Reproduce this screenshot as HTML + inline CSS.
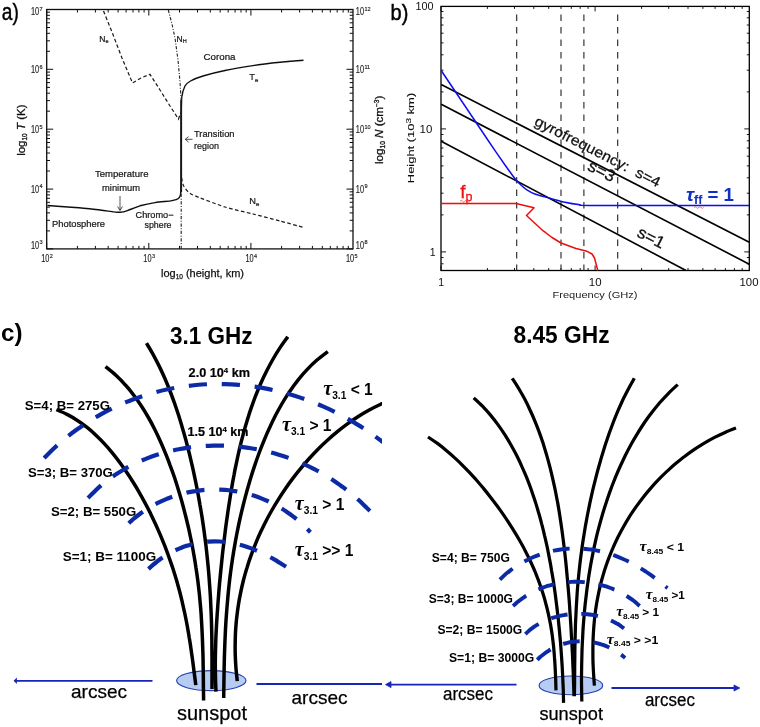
<!DOCTYPE html>
<html lang="en">
<head>
<meta charset="utf-8">
<title>Solar atmosphere model and gyroresonance layers</title>
<style>
html,body{margin:0;padding:0;background:#fff;}
body{width:760px;height:727px;overflow:hidden;}
svg{display:block;font-family:"Liberation Sans",sans-serif;}
#pa,#pa-text{filter:url(#soft);}
#pb,#pb-text{filter:url(#soft2);}
.soft3{filter:url(#soft3);}
</style>
</head>
<body>
<svg width="760" height="727" viewBox="0 0 760 727">
<defs>
<clipPath id="clipL"><rect x="0" y="300" width="382" height="427"/></clipPath>
<filter id="soft" x="-5%" y="-5%" width="110%" height="110%"><feGaussianBlur stdDeviation="0.45"/></filter>
<filter id="soft3" x="-5%" y="-5%" width="110%" height="110%"><feGaussianBlur stdDeviation="0.3"/></filter>
<filter id="soft2" x="-5%" y="-5%" width="110%" height="110%"><feGaussianBlur stdDeviation="0.35"/></filter>
</defs>
<rect width="760" height="727" fill="#fff"/>
<g id="pa">
<rect x="46.7" y="9.5" width="306.3" height="239.4" fill="none" stroke="#111" stroke-width="1.3"/>
<path d="M46.7 248.9 v-6.0 M46.7 9.5 v6.0 M77.4 248.9 v-3.0 M77.4 9.5 v3.0 M95.4 248.9 v-3.0 M95.4 9.5 v3.0 M108.2 248.9 v-3.0 M108.2 9.5 v3.0 M118.1 248.9 v-3.0 M118.1 9.5 v3.0 M126.1 248.9 v-3.0 M126.1 9.5 v3.0 M133.0 248.9 v-3.0 M133.0 9.5 v3.0 M138.9 248.9 v-3.0 M138.9 9.5 v3.0 M144.1 248.9 v-3.0 M144.1 9.5 v3.0 M148.8 248.9 v-6.0 M148.8 9.5 v6.0 M179.5 248.9 v-3.0 M179.5 9.5 v3.0 M197.5 248.9 v-3.0 M197.5 9.5 v3.0 M210.3 248.9 v-3.0 M210.3 9.5 v3.0 M220.2 248.9 v-3.0 M220.2 9.5 v3.0 M228.2 248.9 v-3.0 M228.2 9.5 v3.0 M235.1 248.9 v-3.0 M235.1 9.5 v3.0 M241.0 248.9 v-3.0 M241.0 9.5 v3.0 M246.2 248.9 v-3.0 M246.2 9.5 v3.0 M250.9 248.9 v-6.0 M250.9 9.5 v6.0 M281.6 248.9 v-3.0 M281.6 9.5 v3.0 M299.6 248.9 v-3.0 M299.6 9.5 v3.0 M312.4 248.9 v-3.0 M312.4 9.5 v3.0 M322.3 248.9 v-3.0 M322.3 9.5 v3.0 M330.3 248.9 v-3.0 M330.3 9.5 v3.0 M337.2 248.9 v-3.0 M337.2 9.5 v3.0 M343.1 248.9 v-3.0 M343.1 9.5 v3.0 M348.3 248.9 v-3.0 M348.3 9.5 v3.0 M46.7 248.9 h6.5 M353.0 248.9 h-6.5 M46.7 230.9 h3.3 M353.0 230.9 h-3.3 M46.7 220.3 h3.3 M353.0 220.3 h-3.3 M46.7 212.9 h3.3 M353.0 212.9 h-3.3 M46.7 207.1 h3.3 M353.0 207.1 h-3.3 M46.7 202.3 h3.3 M353.0 202.3 h-3.3 M46.7 198.3 h3.3 M353.0 198.3 h-3.3 M46.7 194.9 h3.3 M353.0 194.9 h-3.3 M46.7 191.8 h3.3 M353.0 191.8 h-3.3 M46.7 189.1 h6.5 M353.0 189.1 h-6.5 M46.7 171.0 h3.3 M353.0 171.0 h-3.3 M46.7 160.5 h3.3 M353.0 160.5 h-3.3 M46.7 153.0 h3.3 M353.0 153.0 h-3.3 M46.7 147.2 h3.3 M353.0 147.2 h-3.3 M46.7 142.5 h3.3 M353.0 142.5 h-3.3 M46.7 138.5 h3.3 M353.0 138.5 h-3.3 M46.7 135.0 h3.3 M353.0 135.0 h-3.3 M46.7 131.9 h3.3 M353.0 131.9 h-3.3 M46.7 129.2 h6.5 M353.0 129.2 h-6.5 M46.7 111.2 h3.3 M353.0 111.2 h-3.3 M46.7 100.6 h3.3 M353.0 100.6 h-3.3 M46.7 93.2 h3.3 M353.0 93.2 h-3.3 M46.7 87.4 h3.3 M353.0 87.4 h-3.3 M46.7 82.6 h3.3 M353.0 82.6 h-3.3 M46.7 78.6 h3.3 M353.0 78.6 h-3.3 M46.7 75.2 h3.3 M353.0 75.2 h-3.3 M46.7 72.1 h3.3 M353.0 72.1 h-3.3 M46.7 69.3 h6.5 M353.0 69.3 h-6.5 M46.7 51.3 h3.3 M353.0 51.3 h-3.3 M46.7 40.8 h3.3 M353.0 40.8 h-3.3 M46.7 33.3 h3.3 M353.0 33.3 h-3.3 M46.7 27.5 h3.3 M353.0 27.5 h-3.3 M46.7 22.8 h3.3 M353.0 22.8 h-3.3 M46.7 18.8 h3.3 M353.0 18.8 h-3.3 M46.7 15.3 h3.3 M353.0 15.3 h-3.3 M46.7 12.2 h3.3 M353.0 12.2 h-3.3" stroke="#111" stroke-width="1" fill="none"/>
<path d="M47.5 205.5 C52.1 205.8 66.2 206.8 75.0 207.5 C83.8 208.2 92.5 209.2 100.0 210.0 C107.5 210.8 115.0 212.4 120.0 212.3 C125.0 212.2 126.7 210.6 130.0 209.5 C133.3 208.4 135.8 207.0 140.0 205.8 C144.2 204.7 149.7 203.5 155.0 202.6 C160.3 201.7 168.1 201.3 172.0 200.6 C175.9 199.9 177.1 199.6 178.5 198.5 C179.9 197.4 180.2 197.1 180.6 194.0 C181.0 190.9 181.1 182.3 181.2 180.0" stroke="#111" stroke-width="1.4" fill="none"/>
<path d="M181.2 180.0 C181.2 171.8 181.2 119.7 181.3 110.0 C181.4 100.3 181.4 99.8 181.8 97.0 C182.2 94.2 184.0 87.9 185.0 86.0 C186.0 84.1 188.4 82.2 190.5 81.0 C192.6 79.8 199.0 77.2 203.0 76.0 C207.0 74.8 219.2 71.7 225.0 70.5 C230.8 69.3 246.6 66.6 253.0 65.6 C259.4 64.6 274.1 62.9 280.0 62.3 C285.9 61.7 300.8 60.4 303.5 60.2" stroke="#111" stroke-width="1.4" fill="none"/>
<path d="M181.2 100 V192" stroke="#111" stroke-width="1.8" fill="none"/>
<path d="M103.5 11.0 L112.0 32.0 L122.0 58.0 L132.5 83.0 L141.0 78.0 L150.0 74.3 L160.0 90.0 L170.0 106.0 L178.5 119.0 L181.0 112.0" stroke="#1c1c1c" stroke-width="1.25" fill="none" stroke-dasharray="3.6 2.4"/>
<path d="M181.2 172.0 C181.3 172.9 181.7 178.3 182.0 180.0 C182.3 181.7 182.8 184.8 184.0 186.5 C185.2 188.2 187.2 192.1 192.0 194.5 C196.8 196.9 217.9 204.7 225.0 207.0 C232.1 209.3 246.6 212.4 253.0 214.0 C259.4 215.6 274.1 219.4 280.0 221.0 C285.9 222.6 300.8 226.6 303.5 227.3" stroke="#1c1c1c" stroke-width="1.25" fill="none" stroke-dasharray="3.6 2.4"/>
<path d="M168.3 10.0 L172.0 24.0 L175.0 38.0 L178.0 60.0 L180.0 82.0 L181.2 100.0 L181.2 249.0" stroke="#222" stroke-width="1.1" fill="none" stroke-dasharray="3.2 1.6 1 1.6"/>
<path d="M120 196 V210 M117.6 206.5 L120 210.5 L122.4 206.5" stroke="#222" stroke-width="0.8" fill="none"/>
<path d="M192.5 139.3 H185.5 M188.6 136.6 L185.2 139.3 L188.6 142" stroke="#222" stroke-width="0.8" fill="none"/>
</g>
<g id="pa-text" fill="#222">
<text x="31.0" y="15.3" font-size="10" fill="#1a1a1a" stroke="#1a1a1a" stroke-width="0.15" textLength="8.2" lengthAdjust="spacingAndGlyphs" text-anchor="start">10</text>
<text x="39.6" y="10.7" font-size="5.5" fill="#1a1a1a" stroke="#1a1a1a" stroke-width="0.15" text-anchor="start">7</text>
<text x="31.0" y="73.2" font-size="10" fill="#1a1a1a" stroke="#1a1a1a" stroke-width="0.15" textLength="8.2" lengthAdjust="spacingAndGlyphs" text-anchor="start">10</text>
<text x="39.6" y="68.7" font-size="5.5" fill="#1a1a1a" stroke="#1a1a1a" stroke-width="0.15" text-anchor="start">6</text>
<text x="31.0" y="133.1" font-size="10" fill="#1a1a1a" stroke="#1a1a1a" stroke-width="0.15" textLength="8.2" lengthAdjust="spacingAndGlyphs" text-anchor="start">10</text>
<text x="39.6" y="128.5" font-size="5.5" fill="#1a1a1a" stroke="#1a1a1a" stroke-width="0.15" text-anchor="start">5</text>
<text x="31.0" y="193.0" font-size="10" fill="#1a1a1a" stroke="#1a1a1a" stroke-width="0.15" textLength="8.2" lengthAdjust="spacingAndGlyphs" text-anchor="start">10</text>
<text x="39.6" y="188.4" font-size="5.5" fill="#1a1a1a" stroke="#1a1a1a" stroke-width="0.15" text-anchor="start">4</text>
<text x="31.0" y="248.6" font-size="10" fill="#1a1a1a" stroke="#1a1a1a" stroke-width="0.15" textLength="8.2" lengthAdjust="spacingAndGlyphs" text-anchor="start">10</text>
<text x="39.6" y="244.0" font-size="5.5" fill="#1a1a1a" stroke="#1a1a1a" stroke-width="0.15" text-anchor="start">3</text>
<text x="355.8" y="15.3" font-size="10" fill="#1a1a1a" stroke="#1a1a1a" stroke-width="0.15" textLength="8.2" lengthAdjust="spacingAndGlyphs" text-anchor="start">10</text>
<text x="364.4" y="10.7" font-size="5.5" fill="#1a1a1a" stroke="#1a1a1a" stroke-width="0.15" text-anchor="start">12</text>
<text x="355.8" y="73.2" font-size="10" fill="#1a1a1a" stroke="#1a1a1a" stroke-width="0.15" textLength="8.2" lengthAdjust="spacingAndGlyphs" text-anchor="start">10</text>
<text x="364.4" y="68.7" font-size="5.5" fill="#1a1a1a" stroke="#1a1a1a" stroke-width="0.15" text-anchor="start">11</text>
<text x="355.8" y="133.1" font-size="10" fill="#1a1a1a" stroke="#1a1a1a" stroke-width="0.15" textLength="8.2" lengthAdjust="spacingAndGlyphs" text-anchor="start">10</text>
<text x="364.4" y="128.5" font-size="5.5" fill="#1a1a1a" stroke="#1a1a1a" stroke-width="0.15" text-anchor="start">10</text>
<text x="355.8" y="193.0" font-size="10" fill="#1a1a1a" stroke="#1a1a1a" stroke-width="0.15" textLength="8.2" lengthAdjust="spacingAndGlyphs" text-anchor="start">10</text>
<text x="364.4" y="188.4" font-size="5.5" fill="#1a1a1a" stroke="#1a1a1a" stroke-width="0.15" text-anchor="start">9</text>
<text x="355.8" y="248.6" font-size="10" fill="#1a1a1a" stroke="#1a1a1a" stroke-width="0.15" textLength="8.2" lengthAdjust="spacingAndGlyphs" text-anchor="start">10</text>
<text x="364.4" y="244.0" font-size="5.5" fill="#1a1a1a" stroke="#1a1a1a" stroke-width="0.15" text-anchor="start">8</text>
<text x="41.2" y="262.3" font-size="10" fill="#1a1a1a" stroke="#1a1a1a" stroke-width="0.15" textLength="8.2" lengthAdjust="spacingAndGlyphs" text-anchor="start">10</text>
<text x="49.8" y="257.7" font-size="5.5" fill="#1a1a1a" stroke="#1a1a1a" stroke-width="0.15" text-anchor="start">2</text>
<text x="143.3" y="262.3" font-size="10" fill="#1a1a1a" stroke="#1a1a1a" stroke-width="0.15" textLength="8.2" lengthAdjust="spacingAndGlyphs" text-anchor="start">10</text>
<text x="151.9" y="257.7" font-size="5.5" fill="#1a1a1a" stroke="#1a1a1a" stroke-width="0.15" text-anchor="start">3</text>
<text x="245.4" y="262.3" font-size="10" fill="#1a1a1a" stroke="#1a1a1a" stroke-width="0.15" textLength="8.2" lengthAdjust="spacingAndGlyphs" text-anchor="start">10</text>
<text x="254.0" y="257.7" font-size="5.5" fill="#1a1a1a" stroke="#1a1a1a" stroke-width="0.15" text-anchor="start">4</text>
<text x="346.0" y="262.3" font-size="10" fill="#1a1a1a" stroke="#1a1a1a" stroke-width="0.15" textLength="8.2" lengthAdjust="spacingAndGlyphs" text-anchor="start">10</text>
<text x="354.6" y="257.7" font-size="5.5" fill="#1a1a1a" stroke="#1a1a1a" stroke-width="0.15" text-anchor="start">5</text>
<text x="202.5" y="277.2" font-size="11" text-anchor="middle" fill="#111" stroke="#111" stroke-width="0.25">log<tspan dy="2.2" font-size="6.5">10</tspan><tspan dy="-2.2"> (height, km)</tspan></text>
<text transform="translate(24.9 130.2) rotate(-90)" font-size="11.5" text-anchor="middle" fill="#111" stroke="#111" stroke-width="0.3">log<tspan dy="2.2" font-size="6.5">10</tspan><tspan dy="-2.2"> </tspan><tspan font-style="italic">T</tspan> (K)</text>
<text transform="translate(382.7 164) rotate(-90)" font-size="11.5" text-anchor="start" textLength="68.4" lengthAdjust="spacingAndGlyphs" fill="#111" stroke="#111" stroke-width="0.3">log<tspan dy="2.2" font-size="6.5">10</tspan><tspan dy="-2.2"> </tspan><tspan font-style="italic">N</tspan> (cm<tspan dy="-3.8" font-size="6.5">−3</tspan><tspan dy="3.8">)</tspan></text>
<text x="99.3" y="41.5" font-size="8.5" text-anchor="start" font-weight="normal" fill="#151515" stroke="#151515" stroke-width="0.2">N<tspan dy="1.5" font-size="5.5">e</tspan></text>
<text x="176.5" y="41.5" font-size="8.5" text-anchor="start" font-weight="normal" fill="#151515" stroke="#151515" stroke-width="0.2">N<tspan dy="1.5" font-size="5.5">H</tspan></text>
<text x="203.5" y="59.5" font-size="9" text-anchor="start" fill="#151515" stroke="#151515" stroke-width="0.2" textLength="32" lengthAdjust="spacingAndGlyphs">Corona</text>
<text x="249.3" y="80.3" font-size="9.3" text-anchor="start" font-weight="normal" fill="#151515" stroke="#151515" stroke-width="0.2">T<tspan dy="1.5" font-size="6">e</tspan></text>
<text x="194.0" y="137.3" font-size="9" text-anchor="start" fill="#151515" stroke="#151515" stroke-width="0.2" textLength="40.5" lengthAdjust="spacingAndGlyphs">Transition</text>
<text x="194.0" y="149.3" font-size="9" text-anchor="start" fill="#151515" stroke="#151515" stroke-width="0.2" textLength="25" lengthAdjust="spacingAndGlyphs">region</text>
<text x="95.0" y="177.0" font-size="9" text-anchor="start" fill="#151515" stroke="#151515" stroke-width="0.2" textLength="53.5" lengthAdjust="spacingAndGlyphs">Temperature</text>
<text x="102.0" y="191.0" font-size="9" text-anchor="start" fill="#151515" stroke="#151515" stroke-width="0.2" textLength="38" lengthAdjust="spacingAndGlyphs">minimum</text>
<text x="52.0" y="227.0" font-size="9" text-anchor="start" fill="#151515" stroke="#151515" stroke-width="0.2" textLength="53" lengthAdjust="spacingAndGlyphs">Photosphere</text>
<text x="135.5" y="218.0" font-size="9" text-anchor="start" fill="#151515" stroke="#151515" stroke-width="0.2" textLength="38" lengthAdjust="spacingAndGlyphs">Chromo−</text>
<text x="144.5" y="227.8" font-size="9" text-anchor="start" fill="#151515" stroke="#151515" stroke-width="0.2" textLength="27" lengthAdjust="spacingAndGlyphs">sphere</text>
<text x="249.3" y="204.3" font-size="9.3" text-anchor="start" font-weight="normal" fill="#151515" stroke="#151515" stroke-width="0.2">N<tspan dy="1.5" font-size="6">e</tspan></text>
</g>
<g class="soft3"><text x="1.8" y="20.3" font-size="23.7" fill="#000" stroke="#000" stroke-width="0.45" textLength="17" lengthAdjust="spacingAndGlyphs">a)</text></g>
<g id="pb">
<rect x="441.0" y="6.4" width="308.3" height="264.1" fill="none" stroke="#000" stroke-width="1.3"/>
<path d="M441.0 270.5 v-5.0 M441.0 6.4 v5.0 M487.4 270.5 v-2.5 M487.4 6.4 v2.5 M514.5 270.5 v-2.5 M514.5 6.4 v2.5 M533.8 270.5 v-2.5 M533.8 6.4 v2.5 M548.7 270.5 v-2.5 M548.7 6.4 v2.5 M561.0 270.5 v-2.5 M561.0 6.4 v2.5 M571.3 270.5 v-2.5 M571.3 6.4 v2.5 M580.2 270.5 v-2.5 M580.2 6.4 v2.5 M588.1 270.5 v-2.5 M588.1 6.4 v2.5 M595.1 270.5 v-5.0 M595.1 6.4 v5.0 M641.6 270.5 v-2.5 M641.6 6.4 v2.5 M668.7 270.5 v-2.5 M668.7 6.4 v2.5 M688.0 270.5 v-2.5 M688.0 6.4 v2.5 M702.9 270.5 v-2.5 M702.9 6.4 v2.5 M715.1 270.5 v-2.5 M715.1 6.4 v2.5 M725.4 270.5 v-2.5 M725.4 6.4 v2.5 M734.4 270.5 v-2.5 M734.4 6.4 v2.5 M742.2 270.5 v-2.5 M742.2 6.4 v2.5 M441.0 263.8 h2.5 M749.3 263.8 h-2.5 M441.0 257.5 h2.5 M749.3 257.5 h-2.5 M441.0 251.9 h5.0 M749.3 251.9 h-5.0 M441.0 214.9 h2.5 M749.3 214.9 h-2.5 M441.0 193.2 h2.5 M749.3 193.2 h-2.5 M441.0 177.8 h2.5 M749.3 177.8 h-2.5 M441.0 165.9 h2.5 M749.3 165.9 h-2.5 M441.0 156.2 h2.5 M749.3 156.2 h-2.5 M441.0 148.0 h2.5 M749.3 148.0 h-2.5 M441.0 140.8 h2.5 M749.3 140.8 h-2.5 M441.0 134.5 h2.5 M749.3 134.5 h-2.5 M441.0 128.9 h5.0 M749.3 128.9 h-5.0 M441.0 91.9 h2.5 M749.3 91.9 h-2.5 M441.0 70.2 h2.5 M749.3 70.2 h-2.5 M441.0 54.8 h2.5 M749.3 54.8 h-2.5 M441.0 42.9 h2.5 M749.3 42.9 h-2.5 M441.0 33.2 h2.5 M749.3 33.2 h-2.5 M441.0 25.0 h2.5 M749.3 25.0 h-2.5 M441.0 17.8 h2.5 M749.3 17.8 h-2.5 M441.0 11.5 h2.5 M749.3 11.5 h-2.5" stroke="#000" stroke-width="0.9" fill="none"/>
<path d="M516.7 14.4 V270.5" stroke="#222" stroke-width="1.1" stroke-dasharray="6.6 5.9" fill="none"/>
<path d="M561.0 14.4 V270.5" stroke="#222" stroke-width="1.1" stroke-dasharray="6.6 5.9" fill="none"/>
<path d="M583.9 14.4 V270.5" stroke="#222" stroke-width="1.1" stroke-dasharray="6.6 5.9" fill="none"/>
<path d="M617.7 14.4 V270.5" stroke="#222" stroke-width="1.1" stroke-dasharray="6.6 5.9" fill="none"/>
<path d="M441.2 84.6 L749.3 242.2 M441.2 104.2 L749.3 264.2 M441.2 141.2 L686 270.5" stroke="#000" stroke-width="1.65" fill="none"/>
<path d="M441.2 70.5 C443.5 73.9 459.4 97.6 464.0 104.5 C468.6 111.4 483.4 133.4 487.5 139.5 C491.6 145.6 502.1 160.9 505.0 165.0 C507.9 169.1 514.4 178.0 516.0 180.0 C517.6 182.0 520.0 184.0 521.0 185.0 C522.0 186.0 525.1 188.7 526.5 189.6 C527.9 190.5 532.6 193.2 534.8 194.0 C537.0 194.8 545.5 197.1 548.5 197.9 C551.5 198.7 561.9 201.6 565.0 202.3 C568.1 203.0 577.5 204.5 580.0 204.8 C582.5 205.1 573.1 205.3 590.0 205.4 C606.9 205.5 733.4 205.4 749.3 205.4" stroke="#1010ee" stroke-width="1.5" fill="none"/>
<path d="M441.2 203.4 L516.0 203.4 L534.0 207.8 L526.5 215.5 L543.0 230.7 L552.0 237.5 L561.0 243.0 L576.0 248.5 L587.0 251.3 L592.0 254.0 L594.5 258.0 L597.8 270.5" stroke="#ee1010" stroke-width="1.5" fill="none" stroke-linejoin="round"/>
</g>
<g id="pb-text" fill="#111">
<text x="415.4" y="10.4" font-size="10" text-anchor="start" font-weight="normal" fill="#111" textLength="18" lengthAdjust="spacingAndGlyphs">100</text>
<text x="419.5" y="132.6" font-size="10.5" text-anchor="start" font-weight="normal" fill="#111" textLength="12.8" lengthAdjust="spacingAndGlyphs">10</text>
<text x="435.5" y="255.7" font-size="10.5" text-anchor="end" font-weight="normal" fill="#111" >1</text>
<text x="441.2" y="285.5" font-size="10.5" text-anchor="middle" font-weight="normal" fill="#111" >1</text>
<text x="588.8" y="285.5" font-size="10.5" text-anchor="start" font-weight="normal" fill="#111" textLength="12.8" lengthAdjust="spacingAndGlyphs">10</text>
<text x="739.5" y="285.5" font-size="10.5" text-anchor="start" font-weight="normal" fill="#111" textLength="19" lengthAdjust="spacingAndGlyphs">100</text>
<text x="552.5" y="298.3" font-size="9.5" text-anchor="start" font-weight="normal" fill="#222" textLength="85" lengthAdjust="spacingAndGlyphs">Frequency (GHz)</text>
<text transform="translate(414.3 183.2) rotate(-90)" font-size="9.8" text-anchor="start" fill="#111" stroke="#111" stroke-width="0.1" textLength="90.4" lengthAdjust="spacingAndGlyphs">Height (10<tspan dy="-3.2" font-size="7.5">3</tspan><tspan dy="3.2"> km)</tspan></text>
<text transform="translate(533.5 124.5) rotate(27)" font-size="14.5" fill="#111" stroke="#111" stroke-width="0.25" textLength="139" lengthAdjust="spacingAndGlyphs" xml:space="preserve">gyrofrequency:  s=4</text>
<text transform="translate(586.5 169.5) rotate(27)" font-size="16.5" fill="#111" stroke="#111" stroke-width="0.3" textLength="28.5" lengthAdjust="spacingAndGlyphs">s=3</text>
<text transform="translate(636 236) rotate(27)" font-size="16.5" fill="#111" stroke="#111" stroke-width="0.3" textLength="28.5" lengthAdjust="spacingAndGlyphs">s=1</text>
<text x="686" y="200.6" font-size="18" font-weight="bold" fill="#1030c0" textLength="48" lengthAdjust="spacingAndGlyphs"><tspan font-style="italic" font-size="19">τ</tspan><tspan dy="3.5" font-size="12">ff</tspan><tspan dy="-3.5"> = 1</tspan></text>
<path d="M694 207.5 q1.2 -1.6 2.4 0 t2.4 0 t2.4 0 t2.4 0" stroke="#e33" stroke-width="0.7" fill="none"/>
<text x="460.3" y="197.8" font-size="19" fill="#ee1010" stroke="#ee1010" stroke-width="0.3">f<tspan dy="3.5" font-size="12.5">p</tspan></text>
<path d="M460 201.2 q1.2 -1.6 2.4 0 t2.4 0 t2.4 0 t2.4 0" stroke="#e33" stroke-width="0.7" fill="none"/>
</g>
<g class="soft3"><text x="390.6" y="19.5" font-size="21.3" fill="#000" stroke="#000" stroke-width="0.45" textLength="17.8" lengthAdjust="spacingAndGlyphs">b)</text></g>
<g class="soft3"><g id="pc-left" clip-path="url(#clipL)">
<ellipse cx="211.3" cy="680.6" rx="34.7" ry="10" fill="#b7ccf2" stroke="#2540b0" stroke-width="1.1"/>
<path d="M56.4 409.6 C58.3 410.4 64.0 412.7 67.5 414.6 C71.1 416.4 74.5 418.5 77.8 420.7 C81.1 422.8 84.3 425.2 87.4 427.7 C90.4 430.1 93.4 432.8 96.2 435.5 C99.1 438.2 101.9 441.0 104.5 443.9 C107.2 446.8 109.8 449.8 112.3 452.8 C114.8 455.9 117.3 459.0 119.6 462.2 C122.0 465.4 124.3 468.7 126.5 472.0 C128.8 475.3 130.9 478.6 133.0 482.0 C135.2 485.4 137.2 488.8 139.2 492.3 C141.2 495.8 143.1 499.3 145.0 502.8 C146.9 506.3 148.7 509.8 150.5 513.4 C152.2 517.0 153.9 520.6 155.6 524.2 C157.2 527.8 158.8 531.5 160.4 535.1 C161.9 538.8 163.4 542.4 164.9 546.1 C166.3 549.8 167.7 553.5 169.0 557.3 C170.4 561.0 171.6 564.7 172.9 568.5 C174.1 572.3 175.3 576.1 176.4 579.8 C177.5 583.6 178.5 587.5 179.6 591.3 C180.6 595.1 181.5 599.0 182.4 602.8 C183.3 606.7 184.2 610.6 185.0 614.5 C185.8 618.4 186.6 622.3 187.3 626.2 C188.0 630.1 188.7 634.1 189.3 638.0 C190.0 641.9 190.6 645.9 191.1 649.8 C191.7 653.8 192.3 657.7 192.8 661.7 C193.3 665.6 193.8 669.5 194.3 673.5 C194.8 677.4 195.6 683.2 195.8 685.2 M105.5 366.6 C107.2 368.0 112.6 372.2 115.9 375.3 C119.2 378.3 122.3 381.5 125.2 384.8 C128.2 388.0 131.0 391.5 133.6 395.0 C136.3 398.5 138.8 402.1 141.2 405.8 C143.6 409.4 145.9 413.2 148.1 417.0 C150.3 420.8 152.4 424.7 154.4 428.7 C156.4 432.6 158.3 436.6 160.1 440.7 C161.9 444.7 163.7 448.8 165.3 452.9 C167.0 457.0 168.6 461.1 170.1 465.3 C171.7 469.4 173.2 473.6 174.6 477.8 C176.0 482.1 177.3 486.3 178.6 490.5 C179.9 494.8 181.2 499.0 182.3 503.3 C183.5 507.6 184.6 511.9 185.7 516.2 C186.8 520.5 187.8 524.8 188.8 529.1 C189.7 533.4 190.6 537.7 191.5 542.0 C192.4 546.4 193.2 550.7 193.9 555.0 C194.7 559.4 195.4 563.7 196.0 568.1 C196.7 572.5 197.3 576.8 197.9 581.2 C198.4 585.6 198.9 590.0 199.4 594.4 C199.8 598.7 200.2 603.1 200.6 607.5 C201.0 611.9 201.3 616.4 201.5 620.8 C201.8 625.2 202.0 629.6 202.2 634.0 C202.4 638.5 202.6 642.9 202.7 647.3 C202.9 651.8 203.0 656.2 203.1 660.6 C203.1 665.1 203.2 669.5 203.3 673.9 C203.3 678.4 203.4 682.8 203.4 687.2 C203.5 691.6 203.6 698.2 203.6 700.4 M146.5 343.2 C147.6 345.1 151.1 350.8 153.2 354.6 C155.3 358.5 157.3 362.4 159.3 366.4 C161.2 370.3 163.0 374.3 164.8 378.3 C166.5 382.3 168.2 386.4 169.8 390.5 C171.4 394.6 172.9 398.7 174.4 402.8 C175.8 407.0 177.2 411.1 178.6 415.3 C179.9 419.5 181.2 423.7 182.4 427.9 C183.7 432.1 184.8 436.4 186.0 440.6 C187.1 444.9 188.2 449.1 189.3 453.4 C190.3 457.7 191.3 462.0 192.3 466.2 C193.3 470.5 194.2 474.8 195.1 479.2 C196.0 483.5 196.9 487.8 197.7 492.1 C198.5 496.4 199.3 500.8 200.0 505.1 C200.8 509.4 201.5 513.8 202.2 518.1 C202.8 522.4 203.5 526.8 204.1 531.2 C204.7 535.5 205.2 539.9 205.8 544.2 C206.3 548.6 206.8 552.9 207.2 557.3 C207.7 561.7 208.1 566.1 208.5 570.4 C208.9 574.8 209.2 579.2 209.5 583.6 C209.9 587.9 210.1 592.3 210.4 596.7 C210.6 601.1 210.8 605.5 211.0 609.9 C211.2 614.3 211.4 618.7 211.5 623.1 C211.6 627.5 211.7 631.9 211.8 636.3 C211.9 640.7 211.9 645.1 211.9 649.5 C212.0 653.9 212.0 658.3 212.0 662.7 C212.0 667.0 212.0 671.4 212.0 675.8 C212.0 680.2 212.0 686.8 212.0 689.0 M287.8 336.7 C286.5 338.6 282.4 344.1 279.9 347.9 C277.4 351.7 275.0 355.6 272.8 359.5 C270.5 363.5 268.4 367.5 266.4 371.5 C264.3 375.6 262.4 379.7 260.6 383.8 C258.8 388.0 257.1 392.2 255.4 396.4 C253.8 400.6 252.3 404.9 250.8 409.2 C249.3 413.5 248.0 417.8 246.7 422.1 C245.4 426.5 244.1 430.8 243.0 435.2 C241.8 439.6 240.7 444.0 239.6 448.4 C238.6 452.8 237.6 457.3 236.7 461.7 C235.7 466.1 234.8 470.6 234.0 475.1 C233.1 479.5 232.3 484.0 231.6 488.5 C230.8 493.0 230.1 497.4 229.4 501.9 C228.7 506.4 228.0 510.9 227.4 515.4 C226.7 519.9 226.1 524.4 225.5 528.9 C225.0 533.4 224.4 537.9 223.9 542.4 C223.3 546.9 222.8 551.4 222.3 555.9 C221.8 560.4 221.4 565.0 220.9 569.5 C220.5 574.0 220.0 578.5 219.6 583.0 C219.2 587.5 218.8 592.0 218.5 596.5 C218.1 601.1 217.8 605.6 217.5 610.1 C217.1 614.6 216.9 619.1 216.6 623.6 C216.3 628.2 216.1 632.7 215.9 637.2 C215.8 641.7 215.6 646.3 215.5 650.8 C215.4 655.3 215.3 659.9 215.3 664.4 C215.3 669.0 215.4 673.5 215.5 678.0 C215.6 682.6 215.9 689.4 216.0 691.7 M327.8 351.6 C326.0 353.0 320.2 357.2 316.7 360.3 C313.2 363.3 309.9 366.6 306.8 369.9 C303.6 373.2 300.7 376.7 297.8 380.3 C295.0 383.9 292.3 387.6 289.7 391.4 C287.2 395.2 284.7 399.0 282.4 403.0 C280.1 406.9 277.9 411.0 275.7 415.0 C273.6 419.1 271.6 423.3 269.7 427.5 C267.7 431.6 265.9 435.9 264.2 440.1 C262.4 444.4 260.7 448.7 259.1 453.0 C257.5 457.4 256.0 461.7 254.5 466.1 C253.0 470.5 251.6 474.9 250.3 479.3 C249.0 483.8 247.7 488.2 246.5 492.6 C245.2 497.1 244.1 501.6 243.0 506.0 C241.9 510.5 240.8 515.0 239.8 519.5 C238.8 524.0 237.9 528.5 237.0 533.0 C236.1 537.5 235.3 542.0 234.5 546.6 C233.7 551.1 233.0 555.6 232.3 560.2 C231.6 564.7 231.0 569.3 230.4 573.8 C229.8 578.4 229.3 583.0 228.8 587.5 C228.3 592.1 227.9 596.7 227.5 601.3 C227.1 605.9 226.7 610.5 226.4 615.1 C226.0 619.7 225.8 624.3 225.5 628.9 C225.3 633.5 225.1 638.1 224.9 642.7 C224.7 647.4 224.6 652.0 224.4 656.6 C224.3 661.2 224.2 665.8 224.1 670.5 C224.0 675.1 224.0 679.7 223.9 684.3 C223.8 688.9 223.7 695.7 223.7 698.0 M392.0 399.5 C390.0 400.3 384.0 402.7 380.2 404.5 C376.3 406.3 372.5 408.2 368.8 410.3 C365.1 412.3 361.4 414.5 357.9 416.8 C354.3 419.1 350.8 421.5 347.4 423.9 C344.0 426.4 340.6 429.0 337.4 431.7 C334.1 434.4 330.9 437.1 327.7 440.0 C324.6 442.8 321.5 445.7 318.5 448.7 C315.5 451.7 312.6 454.8 309.7 458.0 C306.9 461.1 304.1 464.3 301.4 467.6 C298.6 470.9 296.0 474.2 293.4 477.6 C290.8 481.0 288.3 484.4 285.9 487.9 C283.5 491.4 281.1 495.0 278.9 498.6 C276.6 502.2 274.4 505.8 272.3 509.5 C270.2 513.2 268.1 516.9 266.2 520.7 C264.2 524.5 262.4 528.3 260.6 532.1 C258.8 536.0 257.1 539.9 255.5 543.8 C253.9 547.7 252.4 551.7 251.0 555.7 C249.5 559.7 248.2 563.7 247.0 567.8 C245.7 571.8 244.6 575.9 243.5 580.0 C242.5 584.1 241.5 588.3 240.7 592.4 C239.8 596.6 239.0 600.8 238.4 604.9 C237.7 609.1 237.2 613.4 236.7 617.6 C236.2 621.8 235.9 626.0 235.6 630.3 C235.4 634.5 235.2 638.8 235.2 643.0 C235.1 647.3 235.1 651.6 235.3 655.8 C235.4 660.1 235.7 664.3 236.0 668.5 C236.3 672.8 237.1 679.1 237.3 681.2" stroke="#000" stroke-width="3.5" fill="none"/>
<path d="M44.1 458.1 C45.8 456.4 50.8 451.3 54.3 448.0 C57.8 444.8 61.4 441.6 65.1 438.6 C68.8 435.5 72.6 432.6 76.5 429.8 C80.4 427.0 84.4 424.3 88.4 421.7 C92.5 419.1 96.6 416.7 100.8 414.4 C105.0 412.0 109.2 409.8 113.5 407.8 C117.9 405.7 122.2 403.7 126.7 401.9 C131.1 400.1 135.6 398.5 140.1 396.9 C144.6 395.4 149.2 394.0 153.8 392.7 C158.4 391.4 163.1 390.3 167.7 389.3 C172.4 388.3 177.1 387.5 181.8 386.8 C186.6 386.0 191.3 385.5 196.1 385.0 C200.8 384.6 205.6 384.3 210.4 384.1 C215.1 384.0 219.9 384.0 224.7 384.1 C229.5 384.2 234.3 384.5 239.0 384.9 C243.8 385.3 248.6 385.8 253.3 386.5 C258.1 387.1 262.8 387.9 267.5 388.9 C272.2 389.8 276.9 390.9 281.6 392.1 C286.2 393.2 290.8 394.6 295.4 396.0 C300.0 397.5 304.5 399.0 309.0 400.7 C313.6 402.4 318.0 404.2 322.4 406.2 C326.8 408.1 331.2 410.1 335.5 412.3 C339.8 414.4 344.0 416.7 348.2 419.1 C352.4 421.4 356.5 423.9 360.5 426.4 C364.6 429.0 368.5 431.7 372.4 434.4 C376.3 437.2 380.1 440.0 383.9 442.9 C387.6 445.8 393.0 450.4 394.8 451.9" stroke="#0b2aa6" stroke-width="4.2" fill="none" stroke-dasharray="18.2 14.8"/>
<path d="M88.0 498.0 C89.4 496.6 93.4 492.4 96.3 489.7 C99.1 487.1 102.1 484.5 105.1 482.1 C108.1 479.7 111.3 477.5 114.5 475.3 C117.7 473.1 121.0 471.1 124.3 469.2 C127.7 467.3 131.1 465.5 134.6 463.8 C138.1 462.1 141.6 460.6 145.2 459.1 C148.8 457.7 152.4 456.4 156.1 455.1 C159.8 453.9 163.5 452.8 167.3 451.9 C171.0 450.9 174.8 450.0 178.6 449.3 C182.4 448.5 186.3 447.9 190.1 447.4 C194.0 446.9 197.9 446.4 201.8 446.1 C205.6 445.8 209.5 445.7 213.4 445.6 C217.3 445.5 221.2 445.5 225.1 445.7 C229.0 445.8 232.9 446.1 236.7 446.4 C240.6 446.8 244.5 447.3 248.3 447.8 C252.1 448.4 256.0 449.1 259.8 449.8 C263.6 450.6 267.3 451.5 271.1 452.5 C274.8 453.5 278.5 454.6 282.2 455.7 C285.9 456.9 289.5 458.2 293.2 459.6 C296.8 461.0 300.3 462.5 303.8 464.1 C307.4 465.6 310.8 467.3 314.3 469.1 C317.7 470.9 321.1 472.8 324.4 474.7 C327.7 476.7 331.0 478.8 334.2 480.9 C337.4 483.1 340.6 485.3 343.7 487.6 C346.8 490.0 349.8 492.4 352.8 494.9 C355.8 497.4 358.7 500.0 361.6 502.7 C364.4 505.4 368.5 509.6 369.9 511.0" stroke="#0b2aa6" stroke-width="4.2" fill="none" stroke-dasharray="18.2 14.8"/>
<path d="M128.8 523.2 C129.7 522.4 132.4 519.9 134.2 518.3 C136.1 516.7 138.1 515.2 140.1 513.7 C142.1 512.3 144.2 510.9 146.3 509.5 C148.4 508.2 150.5 506.9 152.7 505.7 C154.9 504.4 157.1 503.3 159.4 502.2 C161.6 501.1 163.9 500.1 166.2 499.1 C168.6 498.2 170.9 497.3 173.3 496.5 C175.7 495.7 178.1 494.9 180.5 494.2 C182.9 493.6 185.4 493.0 187.8 492.4 C190.3 491.9 192.8 491.4 195.2 491.1 C197.7 490.7 200.2 490.4 202.7 490.1 C205.2 489.9 207.7 489.7 210.2 489.6 C212.7 489.5 215.2 489.5 217.7 489.6 C220.2 489.6 222.7 489.7 225.1 489.9 C227.6 490.1 230.1 490.4 232.6 490.8 C235.0 491.1 237.5 491.5 239.9 492.0 C242.4 492.5 244.8 493.1 247.2 493.7 C249.6 494.4 252.0 495.1 254.3 495.8 C256.7 496.6 259.0 497.5 261.3 498.4 C263.6 499.3 265.9 500.3 268.2 501.3 C270.4 502.4 272.7 503.5 274.9 504.7 C277.1 505.8 279.2 507.1 281.4 508.4 C283.5 509.7 285.6 511.1 287.6 512.5 C289.7 513.9 291.7 515.4 293.7 516.9 C295.7 518.5 297.6 520.1 299.5 521.7 C301.4 523.3 303.3 525.0 305.1 526.8 C306.9 528.5 309.5 531.3 310.4 532.2" stroke="#0b2aa6" stroke-width="4.2" fill="none" stroke-dasharray="18.2 14.8"/>
<path d="M148.5 569.0 C149.2 568.4 151.2 566.5 152.6 565.2 C154.0 564.0 155.4 562.8 156.9 561.7 C158.4 560.5 159.9 559.4 161.4 558.3 C163.0 557.3 164.6 556.2 166.2 555.2 C167.8 554.3 169.4 553.3 171.1 552.4 C172.8 551.5 174.5 550.7 176.2 549.9 C177.9 549.1 179.6 548.4 181.4 547.7 C183.1 547.0 184.9 546.4 186.7 545.8 C188.5 545.2 190.3 544.7 192.1 544.2 C193.9 543.8 195.8 543.4 197.6 543.0 C199.4 542.7 201.3 542.4 203.1 542.1 C205.0 541.9 206.8 541.7 208.7 541.6 C210.5 541.5 212.4 541.4 214.3 541.4 C216.1 541.4 218.0 541.4 219.9 541.5 C221.7 541.6 223.6 541.8 225.4 542.0 C227.3 542.2 229.1 542.4 231.0 542.8 C232.8 543.1 234.7 543.4 236.5 543.9 C238.3 544.3 240.1 544.7 241.9 545.3 C243.7 545.8 245.5 546.3 247.3 546.9 C249.1 547.5 250.9 548.2 252.6 548.9 C254.4 549.6 256.1 550.3 257.9 551.1 C259.6 551.8 261.3 552.6 263.0 553.4 C264.7 554.3 266.4 555.1 268.0 556.0 C269.7 556.9 271.4 557.8 273.0 558.7 C274.6 559.7 276.2 560.6 277.8 561.6 C279.4 562.6 281.0 563.5 282.5 564.5 C284.1 565.5 286.4 567.0 287.1 567.5" stroke="#0b2aa6" stroke-width="4.2" fill="none" stroke-dasharray="18.2 14.8"/>
<path d="M14.5 680.8 H152.5 M256.5 684 H395" stroke="#1626b6" stroke-width="1.8" fill="none"/>
<path d="M16.9 677.5 L13.6 680.8 L16.9 684.1 Z" fill="#1626b6"/>
</g></g>
<g id="pc-right" class="soft3">
<ellipse cx="570.9" cy="685.4" rx="31.8" ry="9.4" fill="#b7ccf2" stroke="#2540b0" stroke-width="1.1"/>
<path d="M428.0 437.0 C429.5 438.0 434.1 441.1 437.1 443.2 C440.1 445.4 442.9 447.6 445.7 449.9 C448.5 452.2 451.3 454.6 453.9 457.1 C456.6 459.5 459.3 462.0 461.8 464.6 C464.4 467.2 466.9 469.8 469.4 472.4 C471.9 475.1 474.4 477.8 476.8 480.5 C479.2 483.3 481.6 486.1 483.9 488.9 C486.2 491.7 488.5 494.6 490.7 497.4 C493.0 500.3 495.2 503.2 497.4 506.2 C499.5 509.2 501.6 512.1 503.7 515.1 C505.8 518.2 507.8 521.2 509.8 524.3 C511.8 527.3 513.7 530.4 515.6 533.6 C517.5 536.7 519.3 539.9 521.1 543.0 C522.9 546.2 524.6 549.4 526.2 552.7 C527.9 555.9 529.5 559.2 531.0 562.5 C532.5 565.8 534.0 569.1 535.4 572.5 C536.7 575.8 538.1 579.2 539.3 582.6 C540.5 586.1 541.7 589.5 542.8 593.0 C543.9 596.4 544.9 599.9 545.8 603.5 C546.8 607.0 547.6 610.5 548.4 614.1 C549.2 617.7 549.9 621.2 550.6 624.9 C551.2 628.5 551.8 632.1 552.3 635.7 C552.8 639.4 553.2 643.0 553.6 646.7 C553.9 650.3 554.3 654.0 554.5 657.7 C554.8 661.3 555.0 665.0 555.2 668.6 C555.4 672.3 555.5 675.9 555.7 679.5 C555.8 683.2 555.9 688.5 556.0 690.3 M473.7 397.9 C475.2 399.3 479.7 403.3 482.5 406.2 C485.3 409.1 487.9 412.1 490.5 415.1 C493.1 418.2 495.6 421.4 497.9 424.6 C500.3 427.9 502.6 431.2 504.8 434.6 C506.9 438.0 509.0 441.5 511.0 445.0 C513.0 448.5 514.9 452.0 516.7 455.6 C518.5 459.2 520.3 462.9 521.9 466.6 C523.6 470.2 525.1 474.0 526.7 477.7 C528.2 481.4 529.6 485.2 531.0 489.0 C532.3 492.8 533.6 496.6 534.9 500.4 C536.1 504.3 537.3 508.1 538.4 512.0 C539.6 515.8 540.6 519.7 541.6 523.6 C542.7 527.5 543.6 531.4 544.5 535.3 C545.5 539.2 546.3 543.1 547.2 547.0 C548.0 551.0 548.8 554.9 549.5 558.9 C550.3 562.8 551.0 566.7 551.6 570.7 C552.3 574.7 553.0 578.6 553.6 582.6 C554.2 586.6 554.7 590.5 555.3 594.5 C555.8 598.5 556.3 602.5 556.8 606.5 C557.3 610.5 557.7 614.5 558.2 618.5 C558.6 622.5 559.0 626.5 559.4 630.5 C559.8 634.5 560.1 638.5 560.5 642.6 C560.8 646.6 561.1 650.6 561.4 654.6 C561.7 658.7 561.9 662.7 562.2 666.7 C562.4 670.7 562.6 674.8 562.8 678.8 C563.0 682.8 563.1 686.8 563.3 690.8 C563.4 694.8 563.5 700.8 563.6 702.8 M512.2 378.3 C513.3 380.0 516.7 385.1 518.7 388.5 C520.8 392.0 522.8 395.5 524.7 399.1 C526.6 402.7 528.3 406.3 530.0 410.0 C531.8 413.7 533.4 417.4 534.9 421.1 C536.5 424.9 537.9 428.6 539.3 432.4 C540.7 436.2 542.0 440.1 543.3 443.9 C544.5 447.8 545.7 451.7 546.8 455.6 C547.9 459.4 549.0 463.4 550.0 467.3 C551.0 471.2 551.9 475.1 552.8 479.1 C553.7 483.0 554.6 487.0 555.4 491.0 C556.2 494.9 556.9 498.9 557.7 502.9 C558.4 506.9 559.1 510.9 559.7 514.9 C560.3 518.9 560.9 522.9 561.5 526.9 C562.1 530.9 562.6 534.9 563.1 538.9 C563.6 542.9 564.1 546.9 564.6 550.9 C565.0 554.9 565.5 558.9 565.9 563.0 C566.3 567.0 566.7 571.0 567.0 575.0 C567.4 579.1 567.8 583.1 568.1 587.1 C568.4 591.1 568.8 595.2 569.1 599.2 C569.4 603.2 569.7 607.3 569.9 611.3 C570.2 615.3 570.5 619.4 570.7 623.4 C571.0 627.5 571.2 631.5 571.4 635.6 C571.7 639.6 571.9 643.7 572.1 647.7 C572.3 651.7 572.5 655.8 572.7 659.8 C572.8 663.9 573.0 667.9 573.2 672.0 C573.3 676.0 573.5 680.1 573.6 684.1 C573.8 688.1 573.9 694.2 574.0 696.2 M634.3 378.3 C633.3 380.1 630.3 385.3 628.4 388.9 C626.5 392.4 624.7 396.1 622.9 399.7 C621.2 403.4 619.6 407.0 618.0 410.7 C616.4 414.5 614.9 418.2 613.4 422.0 C612.0 425.7 610.6 429.5 609.2 433.3 C607.9 437.1 606.6 441.0 605.3 444.8 C604.1 448.6 602.9 452.5 601.7 456.4 C600.6 460.3 599.5 464.1 598.4 468.0 C597.3 471.9 596.3 475.9 595.3 479.8 C594.3 483.7 593.4 487.6 592.4 491.6 C591.5 495.5 590.7 499.4 589.8 503.4 C589.0 507.3 588.2 511.3 587.4 515.3 C586.7 519.2 585.9 523.2 585.2 527.2 C584.6 531.2 583.9 535.1 583.3 539.1 C582.7 543.1 582.1 547.1 581.6 551.1 C581.0 555.1 580.5 559.1 580.0 563.1 C579.6 567.1 579.1 571.1 578.7 575.1 C578.3 579.1 578.0 583.2 577.6 587.2 C577.3 591.2 577.0 595.2 576.8 599.3 C576.5 603.3 576.3 607.3 576.1 611.4 C575.9 615.4 575.7 619.4 575.5 623.5 C575.4 627.5 575.3 631.6 575.2 635.6 C575.1 639.7 575.0 643.7 574.9 647.8 C574.9 651.8 574.8 655.9 574.8 659.9 C574.7 663.9 574.7 668.0 574.7 672.0 C574.6 676.1 574.6 680.1 574.6 684.1 C574.5 688.2 574.4 694.2 574.4 696.2 M677.7 384.6 C676.2 386.0 671.5 390.3 668.5 393.3 C665.5 396.3 662.7 399.4 659.9 402.5 C657.2 405.7 654.5 409.0 652.0 412.3 C649.4 415.6 646.9 419.1 644.5 422.5 C642.2 426.0 639.9 429.5 637.7 433.1 C635.5 436.7 633.3 440.4 631.3 444.0 C629.3 447.7 627.3 451.5 625.4 455.2 C623.6 459.0 621.8 462.8 620.0 466.7 C618.3 470.5 616.6 474.4 615.0 478.3 C613.5 482.2 611.9 486.1 610.5 490.1 C609.0 494.0 607.7 498.0 606.4 502.0 C605.0 506.0 603.8 510.0 602.6 514.0 C601.4 518.1 600.3 522.1 599.2 526.2 C598.1 530.2 597.1 534.3 596.1 538.4 C595.2 542.5 594.3 546.6 593.4 550.7 C592.6 554.8 591.8 559.0 591.0 563.1 C590.3 567.2 589.6 571.4 588.9 575.5 C588.3 579.7 587.7 583.8 587.1 588.0 C586.6 592.2 586.1 596.3 585.6 600.5 C585.1 604.7 584.7 608.9 584.3 613.1 C584.0 617.3 583.6 621.5 583.3 625.7 C583.0 629.9 582.8 634.1 582.6 638.3 C582.3 642.5 582.2 646.7 582.0 651.0 C581.9 655.2 581.8 659.4 581.7 663.6 C581.6 667.8 581.6 672.0 581.5 676.2 C581.5 680.4 581.5 684.6 581.6 688.8 C581.6 693.0 581.8 699.3 581.8 701.4 M736.0 428.0 C734.2 428.7 728.7 430.8 725.1 432.4 C721.6 433.9 718.0 435.6 714.6 437.4 C711.1 439.2 707.7 441.1 704.3 443.1 C701.0 445.1 697.7 447.2 694.4 449.4 C691.2 451.6 688.0 453.9 684.9 456.3 C681.7 458.6 678.7 461.1 675.7 463.6 C672.7 466.1 669.8 468.8 666.9 471.4 C664.0 474.1 661.2 476.9 658.5 479.7 C655.8 482.5 653.1 485.4 650.6 488.4 C648.0 491.3 645.5 494.4 643.1 497.4 C640.6 500.5 638.3 503.7 636.0 506.9 C633.8 510.1 631.6 513.3 629.5 516.6 C627.4 519.9 625.4 523.3 623.5 526.7 C621.6 530.1 619.8 533.5 618.0 537.0 C616.3 540.5 614.6 544.0 613.1 547.6 C611.5 551.2 610.1 554.8 608.7 558.4 C607.3 562.1 606.0 565.8 604.8 569.5 C603.6 573.2 602.6 576.9 601.5 580.7 C600.5 584.5 599.6 588.3 598.8 592.1 C598.0 595.9 597.3 599.8 596.6 603.6 C596.0 607.5 595.4 611.4 594.9 615.3 C594.5 619.2 594.1 623.1 593.8 627.0 C593.5 630.9 593.3 634.9 593.1 638.8 C593.0 642.7 592.9 646.6 592.9 650.6 C592.9 654.5 592.9 658.4 593.0 662.3 C593.2 666.2 593.3 670.1 593.6 674.0 C593.8 677.9 594.3 683.7 594.4 685.6" stroke="#000" stroke-width="3.25" fill="none"/>
<path d="M499.9 579.6 C500.7 578.8 503.1 576.4 504.8 574.9 C506.5 573.4 508.3 572.0 510.1 570.6 C512.0 569.2 513.8 567.9 515.8 566.6 C517.7 565.3 519.7 564.1 521.7 562.9 C523.7 561.8 525.7 560.7 527.8 559.7 C529.9 558.6 532.0 557.7 534.1 556.8 C536.2 555.9 538.4 555.1 540.6 554.3 C542.8 553.6 545.0 552.9 547.2 552.3 C549.4 551.7 551.7 551.1 553.9 550.6 C556.2 550.2 558.5 549.8 560.7 549.5 C563.0 549.2 565.3 548.9 567.6 548.7 C569.9 548.6 572.2 548.5 574.5 548.4 C576.7 548.4 579.0 548.5 581.3 548.6 C583.6 548.7 585.9 548.9 588.2 549.2 C590.4 549.4 592.7 549.8 594.9 550.2 C597.2 550.6 599.4 551.1 601.7 551.6 C603.9 552.1 606.1 552.7 608.3 553.4 C610.5 554.1 612.7 554.8 614.9 555.6 C617.0 556.4 619.2 557.3 621.3 558.2 C623.4 559.1 625.5 560.0 627.6 561.1 C629.7 562.1 631.7 563.2 633.8 564.3 C635.8 565.4 637.8 566.5 639.8 567.8 C641.8 569.0 643.7 570.2 645.7 571.5 C647.6 572.8 649.5 574.1 651.4 575.4 C653.3 576.8 655.1 578.1 656.9 579.5 C658.7 580.9 660.5 582.3 662.3 583.8 C664.1 585.2 666.6 587.4 667.5 588.1" stroke="#0b2aa6" stroke-width="3.9" fill="none" stroke-dasharray="16.8 13.8"/>
<path d="M513.0 606.1 C513.7 605.5 515.6 603.7 516.9 602.6 C518.3 601.5 519.6 600.4 521.0 599.4 C522.4 598.3 523.8 597.4 525.2 596.4 C526.7 595.5 528.1 594.6 529.6 593.7 C531.1 592.9 532.6 592.1 534.1 591.3 C535.7 590.6 537.2 589.9 538.8 589.2 C540.3 588.5 541.9 587.9 543.5 587.3 C545.1 586.8 546.8 586.2 548.4 585.7 C550.0 585.3 551.7 584.8 553.3 584.4 C555.0 584.0 556.6 583.7 558.3 583.4 C560.0 583.1 561.7 582.8 563.4 582.6 C565.1 582.4 566.8 582.2 568.5 582.1 C570.2 581.9 571.9 581.9 573.6 581.8 C575.3 581.8 577.1 581.8 578.8 581.8 C580.5 581.9 582.2 582.0 583.9 582.1 C585.6 582.3 587.4 582.4 589.1 582.7 C590.8 582.9 592.5 583.2 594.2 583.5 C595.9 583.8 597.5 584.2 599.2 584.6 C600.9 585.0 602.6 585.4 604.2 585.9 C605.9 586.4 607.5 586.9 609.1 587.5 C610.7 588.1 612.3 588.7 613.9 589.4 C615.5 590.0 617.1 590.7 618.6 591.5 C620.1 592.2 621.7 593.0 623.2 593.8 C624.6 594.7 626.1 595.6 627.5 596.5 C629.0 597.4 630.4 598.4 631.8 599.4 C633.1 600.4 634.5 601.4 635.8 602.5 C637.1 603.6 639.0 605.4 639.6 605.9" stroke="#0b2aa6" stroke-width="3.9" fill="none" stroke-dasharray="16.8 13.8"/>
<path d="M525.4 634.2 C525.9 633.7 527.3 632.3 528.3 631.4 C529.3 630.5 530.3 629.6 531.3 628.8 C532.4 628.0 533.4 627.2 534.5 626.5 C535.6 625.7 536.7 625.0 537.9 624.4 C539.0 623.7 540.1 623.0 541.3 622.4 C542.5 621.8 543.7 621.3 544.9 620.7 C546.1 620.2 547.3 619.7 548.5 619.2 C549.7 618.8 551.0 618.3 552.2 617.9 C553.5 617.5 554.8 617.1 556.0 616.8 C557.3 616.4 558.6 616.1 559.9 615.9 C561.2 615.6 562.5 615.3 563.8 615.1 C565.1 614.9 566.4 614.7 567.7 614.5 C569.1 614.3 570.4 614.2 571.7 614.1 C573.0 614.0 574.4 613.9 575.7 613.9 C577.0 613.8 578.4 613.8 579.7 613.8 C581.0 613.8 582.3 613.9 583.7 613.9 C585.0 614.0 586.3 614.1 587.6 614.2 C588.9 614.4 590.2 614.5 591.6 614.7 C592.9 614.9 594.2 615.1 595.4 615.4 C596.7 615.7 598.0 616.0 599.3 616.3 C600.6 616.6 601.8 617.0 603.1 617.4 C604.3 617.8 605.6 618.2 606.8 618.6 C608.0 619.1 609.2 619.6 610.4 620.1 C611.6 620.7 612.8 621.3 614.0 621.9 C615.2 622.5 616.3 623.1 617.4 623.8 C618.6 624.5 619.7 625.3 620.8 626.0 C621.9 626.8 623.5 628.1 624.0 628.5" stroke="#0b2aa6" stroke-width="3.9" fill="none" stroke-dasharray="16.8 13.8"/>
<path d="M537.3 659.8 C537.7 659.4 539.0 658.1 539.9 657.3 C540.8 656.5 541.7 655.7 542.7 655.0 C543.6 654.2 544.6 653.5 545.5 652.8 C546.5 652.1 547.5 651.4 548.5 650.8 C549.5 650.1 550.6 649.5 551.6 648.9 C552.7 648.4 553.7 647.8 554.8 647.3 C555.9 646.8 557.0 646.3 558.1 645.8 C559.2 645.4 560.3 644.9 561.4 644.6 C562.5 644.2 563.7 643.8 564.8 643.5 C566.0 643.2 567.1 642.9 568.3 642.6 C569.4 642.4 570.6 642.2 571.8 642.0 C573.0 641.8 574.1 641.6 575.3 641.5 C576.5 641.4 577.7 641.3 578.9 641.3 C580.1 641.2 581.3 641.2 582.5 641.2 C583.7 641.3 584.9 641.3 586.1 641.4 C587.3 641.5 588.5 641.6 589.6 641.8 C590.8 641.9 592.0 642.1 593.2 642.3 C594.4 642.5 595.6 642.8 596.7 643.1 C597.9 643.4 599.1 643.7 600.2 644.0 C601.4 644.4 602.5 644.8 603.7 645.2 C604.8 645.6 605.9 646.0 607.0 646.5 C608.1 647.0 609.2 647.5 610.3 648.0 C611.4 648.5 612.4 649.1 613.5 649.7 C614.5 650.3 615.6 650.9 616.6 651.5 C617.6 652.1 618.6 652.8 619.5 653.5 C620.5 654.2 621.4 654.9 622.4 655.6 C623.3 656.3 624.6 657.5 625.1 657.9" stroke="#0b2aa6" stroke-width="3.9" fill="none" stroke-dasharray="16.8 13.8"/>
<path d="M388 684.6 H516.5 M611.5 688 H737" stroke="#1626b6" stroke-width="1.8" fill="none"/>
<path d="M391 681.6 L385.5 684.6 L391 687.6 Z M734 685 L739.8 688 L734 691 Z" stroke="#1626b6" stroke-width="0.8" fill="#1626b6"/>
</g>
<g id="pc-text" class="soft3" fill="#000">
<text x="1.0" y="341.0" font-size="23.5" text-anchor="start" font-weight="bold" fill="#000" textLength="21.5" lengthAdjust="spacingAndGlyphs">c)</text>
<text x="170.0" y="343.6" font-size="24.5" text-anchor="start" font-weight="bold" fill="#000" textLength="82.5" lengthAdjust="spacingAndGlyphs">3.1 GHz</text>
<text x="513.5" y="343.4" font-size="24.5" text-anchor="start" font-weight="bold" fill="#000" textLength="96" lengthAdjust="spacingAndGlyphs">8.45 GHz</text>
<text x="188.6" y="377.0" font-size="12.2" font-weight="bold" stroke="#000" stroke-width="0.2" textLength="61.5" lengthAdjust="spacingAndGlyphs">2.0 10<tspan dy="-3.8" font-size="7.5">4</tspan><tspan dy="3.8"> km</tspan></text>
<text x="187.5" y="435.5" font-size="12.2" font-weight="bold" stroke="#000" stroke-width="0.2" textLength="61" lengthAdjust="spacingAndGlyphs">1.5 10<tspan dy="-3.8" font-size="7.5">4</tspan><tspan dy="3.8"> km</tspan></text>
<text x="24.8" y="409.6" font-size="13.6" font-weight="bold" textLength="85.2" lengthAdjust="spacingAndGlyphs">S=4; B= 275G</text>
<text x="28.0" y="476.5" font-size="13.6" font-weight="bold" textLength="84.8" lengthAdjust="spacingAndGlyphs">S=3; B= 370G</text>
<text x="50.9" y="516.4" font-size="13.6" font-weight="bold" textLength="85.3" lengthAdjust="spacingAndGlyphs">S=2; B= 550G</text>
<text x="62.7" y="561.0" font-size="13.6" font-weight="bold" textLength="93.6" lengthAdjust="spacingAndGlyphs">S=1; B= 1100G</text>
<text x="431.8" y="562.4" font-size="12.6" font-weight="bold" textLength="78" lengthAdjust="spacingAndGlyphs">S=4; B= 750G</text>
<text x="428.7" y="603.0" font-size="12.6" font-weight="bold" textLength="84.3" lengthAdjust="spacingAndGlyphs">S=3; B= 1000G</text>
<text x="437.4" y="633.5" font-size="12.6" font-weight="bold" textLength="84.9" lengthAdjust="spacingAndGlyphs">S=2; B= 1500G</text>
<text x="449.0" y="661.6" font-size="12.6" font-weight="bold" textLength="85.2" lengthAdjust="spacingAndGlyphs">S=1; B= 3000G</text>
<text x="323.2" y="394.8" font-size="16" font-weight="bold" textLength="49.5" lengthAdjust="spacingAndGlyphs"><tspan font-style="italic" font-family="'Liberation Serif',serif" font-size="20.8">τ</tspan><tspan dy="4.0" font-size="10.5">3.1</tspan><tspan dy="-4.0"> &lt; 1</tspan></text>
<text x="282.0" y="430.6" font-size="16" font-weight="bold" textLength="49.4" lengthAdjust="spacingAndGlyphs"><tspan font-style="italic" font-family="'Liberation Serif',serif" font-size="20.8">τ</tspan><tspan dy="4.0" font-size="10.5">3.1</tspan><tspan dy="-4.0"> &gt; 1</tspan></text>
<text x="294.8" y="509.8" font-size="16" font-weight="bold" textLength="49.5" lengthAdjust="spacingAndGlyphs"><tspan font-style="italic" font-family="'Liberation Serif',serif" font-size="20.8">τ</tspan><tspan dy="4.0" font-size="10.5">3.1</tspan><tspan dy="-4.0"> &gt; 1</tspan></text>
<text x="294.8" y="555.6" font-size="16" font-weight="bold" textLength="58.6" lengthAdjust="spacingAndGlyphs"><tspan font-style="italic" font-family="'Liberation Serif',serif" font-size="20.8">τ</tspan><tspan dy="4.0" font-size="10.5">3.1</tspan><tspan dy="-4.0"> &gt;&gt; 1</tspan></text>
<text x="639.6" y="550.9" font-size="11.5" font-weight="bold" textLength="44.6" lengthAdjust="spacingAndGlyphs"><tspan font-style="italic" font-family="'Liberation Serif',serif" font-size="14.950000000000001">τ</tspan><tspan dy="2.875" font-size="8">8.45</tspan><tspan dy="-2.875"> &lt; 1</tspan></text>
<text x="645.8" y="599.0" font-size="11.5" font-weight="bold" textLength="39" lengthAdjust="spacingAndGlyphs"><tspan font-style="italic" font-family="'Liberation Serif',serif" font-size="14.950000000000001">τ</tspan><tspan dy="2.875" font-size="8">8.45</tspan><tspan dy="-2.875"> &gt;1</tspan></text>
<text x="616.2" y="616.0" font-size="11.5" font-weight="bold" textLength="43" lengthAdjust="spacingAndGlyphs"><tspan font-style="italic" font-family="'Liberation Serif',serif" font-size="14.950000000000001">τ</tspan><tspan dy="2.875" font-size="8">8.45</tspan><tspan dy="-2.875"> &gt; 1</tspan></text>
<text x="606.8" y="643.5" font-size="11.5" font-weight="bold" textLength="51.5" lengthAdjust="spacingAndGlyphs"><tspan font-style="italic" font-family="'Liberation Serif',serif" font-size="14.950000000000001">τ</tspan><tspan dy="2.875" font-size="8">8.45</tspan><tspan dy="-2.875"> &gt; &gt;1</tspan></text>
<text x="71.0" y="697.5" font-size="19" text-anchor="start" font-weight="normal" fill="#000" stroke="#000" stroke-width="0.25" textLength="56" lengthAdjust="spacingAndGlyphs">arcsec</text>
<text x="291.5" y="704.0" font-size="19" text-anchor="start" font-weight="normal" fill="#000" stroke="#000" stroke-width="0.25" textLength="56" lengthAdjust="spacingAndGlyphs">arcsec</text>
<text x="443.0" y="700.2" font-size="17.5" text-anchor="start" font-weight="normal" fill="#000" stroke="#000" stroke-width="0.25" textLength="50" lengthAdjust="spacingAndGlyphs">arcsec</text>
<text x="644.9" y="706.0" font-size="17.5" text-anchor="start" font-weight="normal" fill="#000" stroke="#000" stroke-width="0.25" textLength="50" lengthAdjust="spacingAndGlyphs">arcsec</text>
<text x="177.0" y="719.6" font-size="20" text-anchor="start" font-weight="normal" fill="#000" stroke="#000" stroke-width="0.25" textLength="70" lengthAdjust="spacingAndGlyphs">sunspot</text>
<text x="539.4" y="720.4" font-size="18" text-anchor="start" font-weight="normal" fill="#000" stroke="#000" stroke-width="0.25" textLength="63.6" lengthAdjust="spacingAndGlyphs">sunspot</text>
</g>
</svg>
</body>
</html>
